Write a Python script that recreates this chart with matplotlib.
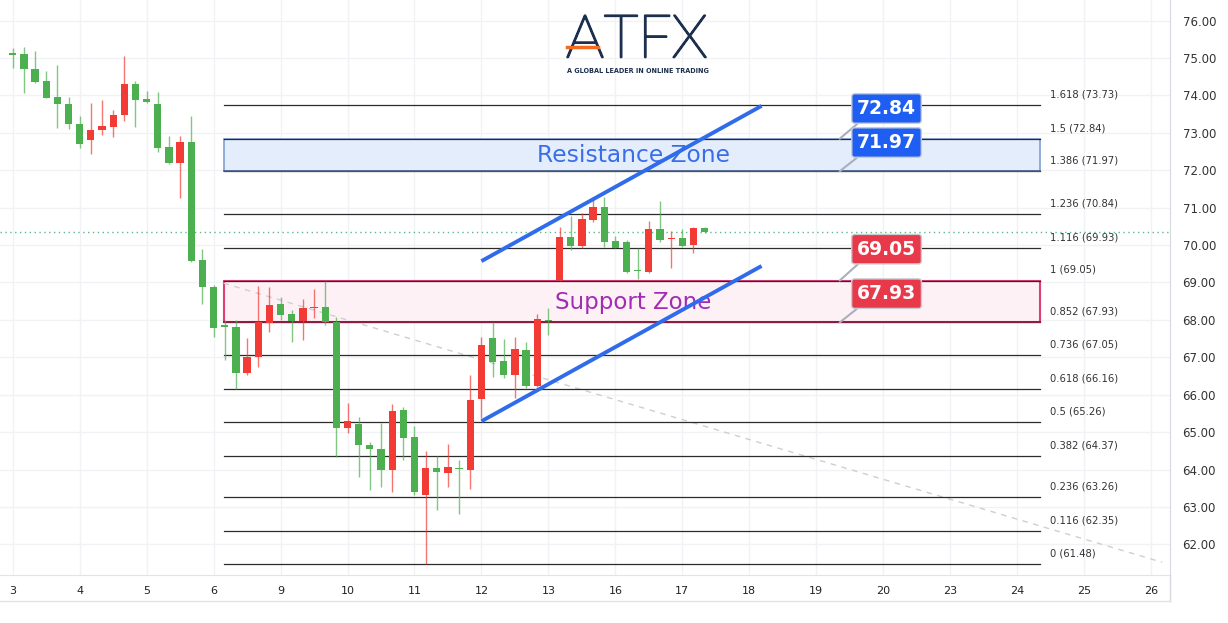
import matplotlib
matplotlib.use("Agg")
import matplotlib.pyplot as plt
import matplotlib.patheffects as pe
import numpy as np

# 4H candles, 6 per trading day
opens = [75.11, 75.10, 74.71, 74.39, 73.96, 73.76, 73.24, 72.81, 73.07, 73.16,
         73.47, 74.30, 73.90, 73.78, 72.62, 72.20, 72.75, 69.60, 68.89, 67.86,
         67.82, 66.57, 67.00, 67.92, 68.42, 68.17, 67.97, 68.31, 68.35, 67.95,
         65.10, 65.21, 64.65, 64.56, 63.98, 65.59, 64.86, 63.33, 64.03, 63.90,
         64.05, 64.00, 65.88, 67.52, 66.90, 66.52, 67.19, 66.23, 68.00, 69.06,
         70.21, 69.98, 70.67, 71.02, 70.11, 70.07, 69.32, 69.27, 70.42, 70.16,
         70.20, 70.00, 70.45]
highs = [75.27, 75.30, 75.20, 74.66, 74.80, 73.96, 73.46, 73.80, 73.88, 73.61,
         75.05, 74.39, 74.11, 74.08, 72.92, 72.91, 73.46, 69.89, 68.92, 67.99,
         67.99, 67.51, 68.90, 68.87, 68.62, 68.26, 68.57, 68.82, 69.05, 68.08,
         65.78, 65.41, 64.74, 65.25, 65.74, 65.68, 65.17, 64.49, 64.36, 64.67,
         64.25, 66.52, 67.55, 67.95, 67.50, 67.53, 67.40, 68.15, 68.32, 70.49,
         70.78, 70.85, 71.29, 71.28, 70.24, 70.13, 69.93, 70.64, 71.18, 70.38,
         70.42, 70.49, 70.47]
lows = [74.73, 74.07, 74.33, 73.92, 73.14, 73.09, 72.60, 72.43, 72.93, 72.88,
        73.32, 73.16, 73.79, 72.49, 72.16, 71.26, 69.55, 68.42, 67.55, 66.93,
        66.14, 66.52, 66.75, 67.68, 67.99, 67.41, 67.46, 68.04, 67.86, 64.34,
        64.98, 63.80, 63.45, 63.54, 63.39, 64.25, 63.32, 61.48, 62.91, 63.54,
        62.80, 63.48, 65.37, 66.48, 66.45, 65.90, 66.17, 66.20, 67.59, 69.05,
        69.87, 69.91, 70.62, 69.95, 69.93, 69.24, 69.08, 69.24, 70.09, 69.38,
        69.95, 69.79, 70.33]
closes = [75.09, 74.71, 74.35, 73.94, 73.76, 73.23, 72.69, 73.08, 73.17, 73.48,
          74.30, 73.88, 73.83, 72.60, 72.20, 72.75, 69.58, 68.87, 67.77, 67.82,
          66.57, 67.00, 67.95, 68.40, 68.13, 67.97, 68.32, 68.34, 67.95, 65.10,
          65.30, 64.65, 64.54, 63.98, 65.57, 64.85, 63.40, 64.03, 63.92, 64.07,
          64.01, 65.86, 67.33, 66.88, 66.52, 67.21, 66.23, 68.01, 67.96, 70.21,
          69.98, 70.70, 71.02, 70.09, 69.93, 69.29, 69.30, 70.42, 70.13, 70.20,
          69.98, 70.45, 70.34]

day_labels = ["3", "4", "5", "6", "9", "10", "11", "12", "13", "16", "17",
              "18", "19", "20", "23", "24", "25", "26"]
price_ticks = [62, 63, 64, 65, 66, 67, 68, 69, 70, 71, 72, 73, 74, 75, 76]

fib_ratios = ["0", "0.116", "0.236", "0.382", "0.5", "0.618", "0.736",
              "0.852", "1", "1.116", "1.236", "1.386", "1.5", "1.618"]
fib_prices = [61.48, 62.35, 63.26, 64.37, 65.26, 66.16, 67.05,
              67.93, 69.05, 69.93, 70.84, 71.97, 72.84, 73.73]

resistance = (71.97, 72.84)
support = (67.93, 69.05)
last_price = 70.35

# channel lines (candle index, price)
upper_channel = ([42.0, 67.1], [69.57, 73.72])
lower_channel = ([42.0, 67.1], [65.29, 69.44])
trend_dash = ([18.9, 103.0], [68.98, 61.52])

GREEN = "#4caf50"
RED = "#f23b35"

fig = plt.figure(figsize=(12.28, 6.23), dpi=100)
ax = fig.add_axes([0, 48 / 623, 1170 / 1228, 575 / 623])
ax.set_xlim(-1.14, 103.7)
ax.set_ylim(61.18, 76.55)

# grid
day_pos = np.arange(len(day_labels)) * 6
for x in day_pos:
    ax.axvline(x, color="#f0f2f6", lw=1, zorder=0)
for y in price_ticks:
    ax.axhline(y, color="#f0f2f6", lw=1, zorder=0)

# zones
x0, x1 = 18.93, 92.05
ax.add_patch(plt.Rectangle((x0, resistance[0]), x1 - x0, resistance[1] - resistance[0],
                           facecolor="#e4edfc", edgecolor="#8aa6d6", lw=1.3, zorder=1))
ax.add_patch(plt.Rectangle((x0, support[0]), x1 - x0, support[1] - support[0],
                           facecolor="#fdf1f6", edgecolor="#de3f78", lw=1.5, zorder=1))

# fib levels
for r, p in zip(fib_ratios, fib_prices):
    ax.plot([x0, x1], [p, p], color="#2b2b2b", lw=0.9, zorder=2)
    ax.text(x1 + 0.9, p + 0.15, f"{r} ({p:.2f})", fontsize=7.2, color="#333333",
            va="bottom", ha="left", zorder=3)
ax.plot([x0, x1], [support[0]] * 2, color="#8c1d45", lw=1.4, zorder=2)
ax.plot([x0, x1], [resistance[0]] * 2, color="#4d5f86", lw=1.1, zorder=2)

ax.text(55.6, sum(resistance) / 2 - 0.02, "Resistance Zone", fontsize=16.8,
        color="#3a6ee8", ha="center", va="center", zorder=3)
ax.text(55.6, sum(support) / 2 - 0.03, "Support Zone", fontsize=16.5,
        color="#a02db4", ha="center", va="center", zorder=3)

# dashed trend line and last price line
ax.plot(trend_dash[0], trend_dash[1], color="#cfcfcf", lw=1, ls=(0, (4, 4)), zorder=1)
ax.axhline(last_price, color="#5cb88a", lw=1, ls=(0, (1, 2.5)), zorder=1)

# candles
idx = np.arange(len(opens))
o = np.array(opens)
c = np.array(closes)
colors = [RED if cc > oo else GREEN for oo, cc in zip(o, c)]
ax.vlines(idx, lows, highs, colors=colors, lw=1, alpha=0.7, zorder=4)
bottoms = np.minimum(o, c)
heights = np.maximum(np.abs(c - o), 0.04)
ax.bar(idx, heights, bottom=bottoms, width=0.65, color=colors, zorder=5)

# channel
ax.plot(upper_channel[0], upper_channel[1], color="#2f6bea", lw=2.8, zorder=6,
        solid_capstyle="butt")
ax.plot(lower_channel[0], lower_channel[1], color="#2f6bea", lw=2.8, zorder=6,
        solid_capstyle="butt")

# price callouts
callouts = [(72.84, 73.65, "#1f5ef2"), (71.97, 72.74, "#1f5ef2"),
            (69.05, 69.89, "#e8394b"), (67.93, 68.70, "#e8394b")]
for p, ty, col in callouts:
    ax.annotate(f"{p:.2f}", xy=(74.1, p), xytext=(78.3, ty), fontsize=13.5,
                fontweight="bold", color="white", ha="center", va="center",
                bbox=dict(boxstyle="round,pad=0.28,rounding_size=0.15", fc=col,
                          ec="#c9ccd3", lw=1),
                arrowprops=dict(arrowstyle="-", color="#a9b0bb", lw=1.5,
                                relpos=(0.12, 0.0), shrinkA=0, shrinkB=0),
                zorder=7)

# axes styling
ax.set_xticks(day_pos)
ax.set_xticklabels(day_labels, fontsize=8, color="#222222")
ax.set_yticks(price_ticks)
ax.set_yticklabels([f"{v:.2f}" for v in price_ticks], fontsize=8.5, color="#333333")
ax.yaxis.tick_right()
ax.tick_params(axis="both", length=0)
ax.tick_params(axis="y", pad=9)
ax.tick_params(axis="x", pad=8)
for s in ["top", "left"]:
    ax.spines[s].set_visible(False)
ax.spines["right"].set_color("#d6d9de")
ax.spines["bottom"].set_color("#e0e3e8")

# frame lines below/right of axis
fig.add_artist(plt.Line2D([0, 1170 / 1228], [1 - 601 / 623] * 2, color="#e0e3e8", lw=1))
fig.add_artist(plt.Line2D([1170 / 1228] * 2, [1 - 601 / 623, 48 / 623], color="#d6d9de", lw=1))

# logo
fig.text(566 / 1228, 1 - 41 / 623, "ATFX", fontsize=43, family="Lato", fontweight="light",
         color="#1c2f4e", va="center", ha="left",
         path_effects=[pe.withStroke(linewidth=1.5, foreground="#1c2f4e")])
bar = plt.Line2D([567 / 1228, 598 / 1228], [1 - 47 / 623] * 2, color="#f26b21", lw=2.5)
bar.set_zorder(10)
fig.add_artist(bar)
fig.text(567 / 1228, 1 - 71 / 623, "A GLOBAL LEADER IN ONLINE TRADING", fontsize=4.7,
         fontweight="bold", color="#1c2f4e", va="center", ha="left")

fig.savefig("out.png", dpi=100, facecolor="white")
